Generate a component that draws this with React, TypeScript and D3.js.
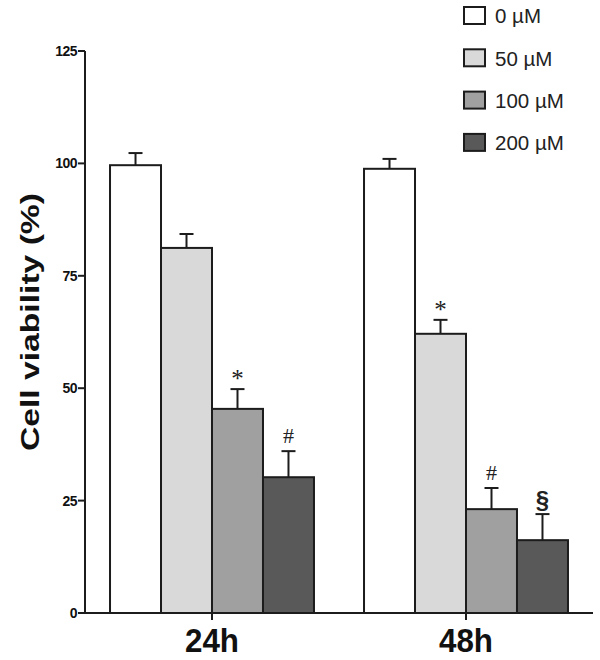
import React from "react";
import * as d3 from "d3";

const groups = ["24h", "48h"];
const series = ["0 µM", "50 µM", "100 µM", "200 µM"];
const colors = ["#ffffff", "#d9d9d9", "#a0a0a0", "#595959"];
const means24 = [99.6, 81.2, 45.4, 30.2];
const means48 = [98.8, 62.1, 23.1, 16.2];
const err24 = [2.7, 3.1, 4.4, 5.8];
const err48 = [2.2, 3.1, 4.7, 5.8];
const marks24 = ["", "", "*", "#"];
const marks48 = ["", "*", "#", "§"];
const yTicks = [0, 25, 50, 75, 100, 125];

const means = [means24, means48];
const errs = [err24, err48];
const marks = [marks24, marks48];

const markStyle: Record<string, { size: number; family: string; weight: string; dy: number }> = {
  "*": { size: 25, family: "Liberation Serif, serif", weight: "normal", dy: -2 },
  "#": { size: 22, family: "Liberation Serif, serif", weight: "normal", dy: -8 },
  "§": { size: 24, family: "Liberation Sans, Arial, sans-serif", weight: "bold", dy: -6 },
};

export default function App() {
  const W = 600, H = 660;
  const x0 = d3.scaleBand().domain(groups).range([85, 593]).paddingInner(0.197).paddingOuter(0.0985);
  const x1 = d3.scaleBand().domain(series).range([0, x0.bandwidth()]);
  const y = d3.scaleLinear().domain([0, 125]).range([613, 51]);
  const stroke = "#1c1c1c";
  const font = "Liberation Sans, Arial, sans-serif";

  return (
    <svg width={W} height={H} style={{ position: "absolute", left: 0, top: 0 }} fontFamily={font}>
      <rect width={W} height={H} fill="#fff" />
      {groups.map((g, gi) => (
        <g key={g}>
          {series.map((s, si) => {
            const bx = (x0(g) as number) + (x1(s) as number);
            const bw = x1.bandwidth();
            const v = means[gi][si];
            const e = errs[gi][si];
            const cx = bx + bw / 2;
            const top = y(v + e);
            const m = marks[gi][si];
            const ms = m ? markStyle[m] : null;
            return (
              <g key={s}>
                <line x1={cx} x2={cx} y1={y(v)} y2={top} stroke={stroke} strokeWidth={2} />
                <line x1={cx - 7} x2={cx + 7} y1={top} y2={top} stroke={stroke} strokeWidth={2} />
                <rect x={bx} y={y(v)} width={bw} height={y(0) - y(v)} fill={colors[si]} stroke={stroke} strokeWidth={2} />
                {ms && (
                  <text
                    x={cx}
                    y={top + ms.dy}
                    textAnchor="middle"
                    fontSize={ms.size}
                    fontFamily={ms.family}
                    fontWeight={ms.weight}
                    fill="#222"
                  >
                    {m}
                  </text>
                )}
              </g>
            );
          })}
        </g>
      ))}
      <line x1={85} x2={85} y1={y(125)} y2={y(0) + 1} stroke={stroke} strokeWidth={2} />
      {yTicks.map((t) => (
        <g key={t}>
          <line x1={78} x2={85} y1={y(t)} y2={y(t)} stroke={stroke} strokeWidth={2} />
          <text x={77} y={y(t)} dy="0.36em" textAnchor="end" fontSize={14} fontWeight="bold" fill="#111" letterSpacing={-0.5}>
            {t}
          </text>
        </g>
      ))}
      <line x1={84} x2={593} y1={y(0)} y2={y(0)} stroke={stroke} strokeWidth={2} />
      {groups.map((g) => {
        const cx = (x0(g) as number) + x0.bandwidth() / 2;
        return (
          <g key={g}>
            <line x1={cx} x2={cx} y1={y(0)} y2={y(0) + 7} stroke={stroke} strokeWidth={2} />
            <text x={cx} y={652} textAnchor="middle" fontSize={34} fontWeight="bold" fill="#111" textLength={54} lengthAdjust="spacingAndGlyphs">
              {g}
            </text>
          </g>
        );
      })}
      <text
        transform={`translate(39,322) rotate(-90)`}
        textAnchor="middle"
        fontSize={25}
        fontWeight="bold"
        fill="#111"
        textLength={258}
        lengthAdjust="spacingAndGlyphs"
      >
        Cell viability (%)
      </text>
      {series.map((s, i) => (
        <g key={s} transform={`translate(464, ${7 + i * 42.3})`}>
          <rect x={0} y={0} width={21} height={17} fill={colors[i]} stroke={stroke} strokeWidth={2} />
          <text x={31} y={9} dy="0.36em" fontSize={20.5} fill="#222">
            {s}
          </text>
        </g>
      ))}
    </svg>
  );
}
